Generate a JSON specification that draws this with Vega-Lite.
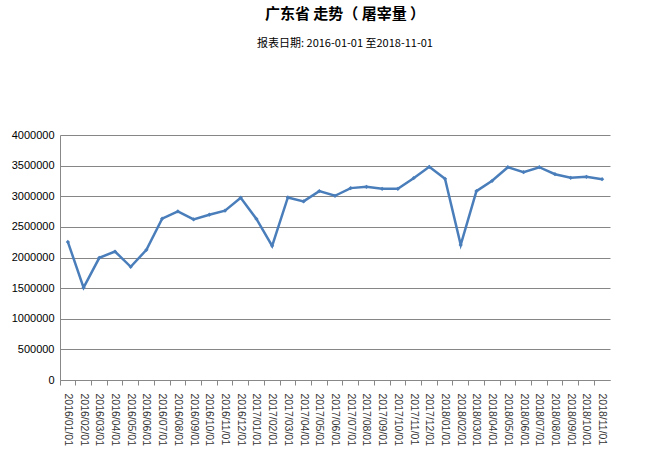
{
  "$schema": "https://vega.github.io/schema/vega-lite/v6.json",
  "width": 550,
  "height": 245,
  "autosize": {"type": "none"},
  "padding": {"left": 60, "top": 135, "right": 55, "bottom": 88},
  "background": "white",
  "config": {"view": {"stroke": null}, "font": "Liberation Sans"},
  "title": {
    "text": "广东省 走势（ 屠宰量 ）",
    "subtitle": "报表日期: 2016-01-01 至2018-11-01",
    "font": "Noto Sans CJK SC",
    "fontSize": 15,
    "fontWeight": "bold",
    "color": "#000000",
    "subtitleFont": "Noto Sans CJK SC",
    "subtitleFontSize": 11,
    "subtitleColor": "#000000",
    "subtitlePadding": 16,
    "anchor": "middle",
    "dx": 10,
    "offset": 80
  },
  "data": {
    "values": [
      {"date": "2016/01/01", "v": 2255000},
      {"date": "2016/02/01", "v": 1507000},
      {"date": "2016/03/01", "v": 1995000},
      {"date": "2016/04/01", "v": 2098000},
      {"date": "2016/05/01", "v": 1848000},
      {"date": "2016/06/01", "v": 2125000},
      {"date": "2016/07/01", "v": 2634000},
      {"date": "2016/08/01", "v": 2753000},
      {"date": "2016/09/01", "v": 2623000},
      {"date": "2016/10/01", "v": 2699000},
      {"date": "2016/11/01", "v": 2764000},
      {"date": "2016/12/01", "v": 2976000},
      {"date": "2017/01/01", "v": 2629000},
      {"date": "2017/02/01", "v": 2190000},
      {"date": "2017/03/01", "v": 2981000},
      {"date": "2017/04/01", "v": 2916000},
      {"date": "2017/05/01", "v": 3084000},
      {"date": "2017/06/01", "v": 3008000},
      {"date": "2017/07/01", "v": 3133000},
      {"date": "2017/08/01", "v": 3154000},
      {"date": "2017/09/01", "v": 3122000},
      {"date": "2017/10/01", "v": 3122000},
      {"date": "2017/11/01", "v": 3295000},
      {"date": "2017/12/01", "v": 3480000},
      {"date": "2018/01/01", "v": 3285000},
      {"date": "2018/02/01", "v": 2206000},
      {"date": "2018/03/01", "v": 3084000},
      {"date": "2018/04/01", "v": 3252000},
      {"date": "2018/05/01", "v": 3474000},
      {"date": "2018/06/01", "v": 3393000},
      {"date": "2018/07/01", "v": 3474000},
      {"date": "2018/08/01", "v": 3360000},
      {"date": "2018/09/01", "v": 3301000},
      {"date": "2018/10/01", "v": 3317000},
      {"date": "2018/11/01", "v": 3279000}
    ]
  },
  "encoding": {
    "x": {
      "field": "date",
      "type": "ordinal",
      "sort": null,
      "scale": {"type": "band", "paddingInner": 0, "paddingOuter": 0},
      "axis": {
        "title": null,
        "labelAngle": 90,
        "labelAlign": "left",
        "labelBaseline": "middle",
        "labelFontSize": 10.5,
        "labelColor": "#333333",
        "labelPadding": 8,
        "tickSize": 5,
        "tickColor": "#888888",
        "domainColor": "#888888",
        "bandPosition": 0,
        "grid": false
      }
    },
    "y": {
      "field": "v",
      "type": "quantitative",
      "scale": {"domain": [0, 4000000], "nice": false},
      "axis": {
        "title": null,
        "values": [0, 500000, 1000000, 1500000, 2000000, 2500000, 3000000, 3500000, 4000000],
        "format": "d",
        "labelFontSize": 11,
        "labelColor": "#000000",
        "labelPadding": 6,
        "ticks": false,
        "domainColor": "#888888",
        "grid": true,
        "gridColor": "#868686",
        "gridOpacity": 1
      }
    }
  },
  "layer": [
    {"mark": {"type": "line", "color": "#4a7ebb", "strokeWidth": 2.5}},
    {"mark": {"type": "point", "shape": "diamond", "size": 18, "filled": true, "color": "#4a7ebb", "opacity": 1}}
  ]
}
